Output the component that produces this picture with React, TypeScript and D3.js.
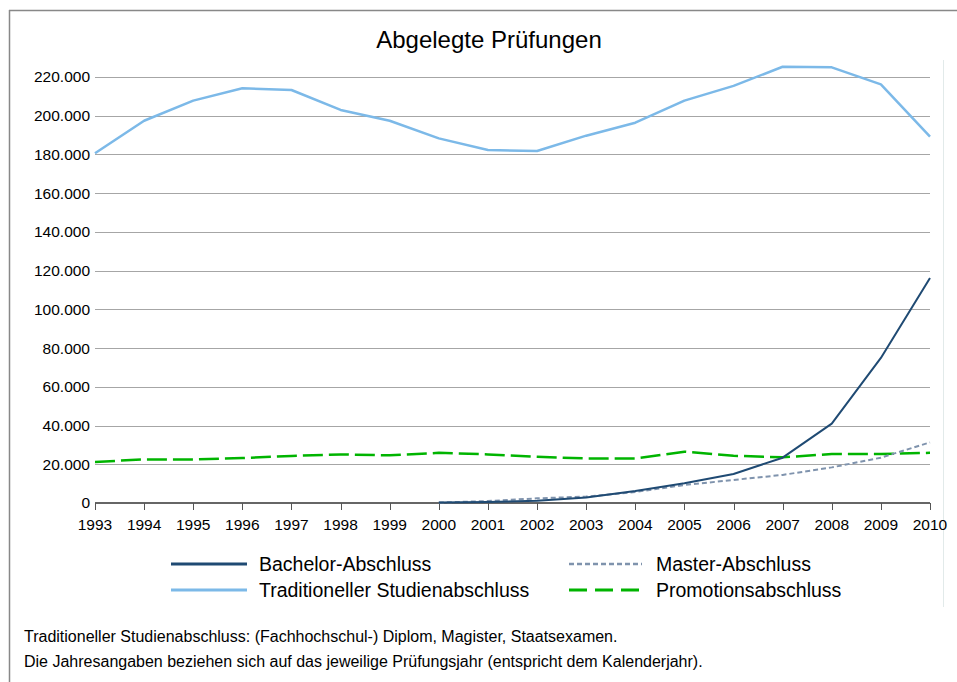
import React from "react";
import * as d3 from "d3";

const years = [1993,1994,1995,1996,1997,1998,1999,2000,2001,2002,2003,2004,2005,2006,2007,2008,2009,2010];
const traditionell = [180600,197400,207800,214200,213300,203000,197400,188300,182300,181800,189700,196400,207800,215400,225300,225000,216200,189200];
const promotion = [21200,22500,22500,23200,24300,25100,24600,25900,25100,23900,23000,23000,26500,24400,23600,25300,25300,25900];
const bachelor = [null,null,null,null,null,null,null,200,500,1200,2900,6200,10200,15000,23400,41000,74900,116200];
const master = [null,null,null,null,null,null,null,200,1000,2400,3300,5700,9300,11900,14500,18400,23400,31300];
const yTicks = [0,20000,40000,60000,80000,100000,120000,140000,160000,180000,200000,220000];
const title = "Abgelegte Prüfungen";
const footnotes = [
  "Traditioneller Studienabschluss: (Fachhochschul-) Diplom, Magister, Staatsexamen.",
  "Die Jahresangaben beziehen sich auf das jeweilige Prüfungsjahr (entspricht dem Kalenderjahr).",
];

const FONT = "'Liberation Sans', Arial, sans-serif";

export default function App() {
  const W = 957, H = 682;
  const x = d3.scaleLinear().domain([1993, 2010]).range([95, 930]);
  const y = d3.scaleLinear().domain([0, 220000]).range([503, 77]);
  const fmt = (v: number) => d3.format(",")(v).replace(/,/g, ".");

  const mk = (vals: (number | null)[]) =>
    d3.line<number>()
      .defined((_, i) => vals[i] != null)
      .x((_, i) => x(years[i]))
      .y((_, i) => y(vals[i] as number))(vals as number[]) || "";

  const series = [
    { name: "Bachelor-Abschluss", vals: bachelor, color: "#1f4a73", w: 2, dash: "", lw: 3, ldash: "" },
    { name: "Master-Abschluss", vals: master, color: "#7f93ad", w: 2, dash: "5,3", lw: 2.5, ldash: "5,3" },
    { name: "Traditioneller Studienabschluss", vals: traditionell, color: "#7cb9e8", w: 2.5, dash: "", lw: 3, ldash: "" },
    { name: "Promotionsabschluss", vals: promotion, color: "#00b400", w: 2.5, dash: "20,6", lw: 3, ldash: "18,8" },
  ];
  const drawOrder = [2, 3, 1, 0];
  const legendPos = [
    { x1: 171, x2: 247, tx: 259, y: 564 },
    { x1: 569, x2: 642, tx: 656, y: 564 },
    { x1: 171, x2: 247, tx: 259, y: 590 },
    { x1: 569, x2: 642, tx: 656, y: 590 },
  ];

  return (
    <svg width={W} height={H} style={{ position: "absolute", left: 0, top: 0, background: "#fff" }} fontFamily={FONT}>
      <rect x={0} y={0} width={W} height={H} fill="#fff" />
      <line x1={9} y1={10.5} x2={W} y2={10.5} stroke="#888" strokeWidth={1.5} />
      <line x1={9.5} y1={10} x2={9.5} y2={H} stroke="#888" strokeWidth={1.5} />
      <line x1={943.5} y1={60} x2={943.5} y2={607} stroke="#e2eaea" strokeWidth={1} />
      <text x={489} y={48} textAnchor="middle" fontSize={24} fill="#000">{title}</text>
      {yTicks.filter((t) => t > 0).map((t) => (
        <line key={t} x1={95} x2={930} y1={Math.round(y(t)) + 0.5} y2={Math.round(y(t)) + 0.5} stroke="#a6a6a6" strokeWidth={1} />
      ))}
      {yTicks.map((t) => (
        <text key={t} x={90} y={y(t)} dy="0.35em" textAnchor="end" fontSize={15.5} fill="#000">{fmt(t)}</text>
      ))}
      <line x1={95} x2={930} y1={503} y2={503} stroke="#666" strokeWidth={2} />
      {years.map((yr) => (
        <g key={yr}>
          <line x1={Math.round(x(yr)) + 0.5} x2={Math.round(x(yr)) + 0.5} y1={503} y2={510} stroke="#555" strokeWidth={1} />
          <text x={x(yr)} y={530} textAnchor="middle" fontSize={15.5} fill="#000">{yr}</text>
        </g>
      ))}
      {drawOrder.map((i) => {
        const s = series[i];
        return (
          <path key={s.name} d={mk(s.vals)} fill="none" stroke={s.color} strokeWidth={s.w} strokeDasharray={s.dash || undefined} strokeLinejoin="round" />
        );
      })}
      {series.map((s, i) => {
        const p = legendPos[i];
        return (
          <g key={s.name}>
            <line x1={p.x1} x2={p.x2} y1={p.y} y2={p.y} stroke={s.color} strokeWidth={s.lw} strokeDasharray={s.ldash || undefined} />
            <text x={p.tx} y={p.y} dy="0.35em" fontSize={19.5} fill="#000">{s.name}</text>
          </g>
        );
      })}
      {footnotes.map((f, i) => (
        <text key={i} x={24} y={642 + i * 25} fontSize={16} fill="#000">{f}</text>
      ))}
    </svg>
  );
}
